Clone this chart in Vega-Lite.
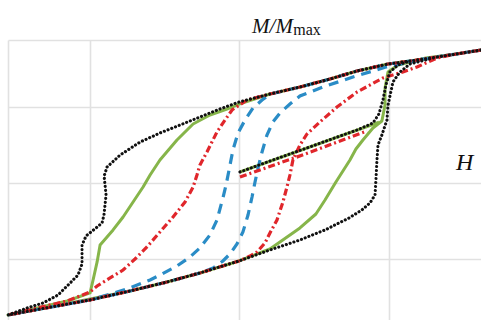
{
  "$schema": "https://vega.github.io/schema/vega-lite/v6.json",
  "width": 473,
  "height": 280,
  "autosize": {"type": "none"},
  "padding": {"left": 8, "top": 40, "right": 0, "bottom": 0},
  "background": "#ffffff",
  "view": {"stroke": null},
  "datasets": {
    "loops": [
      {"c":"k","p":"k1","i":0,"h":1.618,"m":1.750},{"c":"k","p":"k1","i":1,"h":1.450,"m":1.697},{"c":"k","p":"k1","i":2,"h":1.323,"m":1.658},{"c":"k","p":"k1","i":3,"h":1.142,"m":1.605},{"c":"k","p":"k1","i":4,"h":0.995,"m":1.566},{"c":"k","p":"k1","i":5,"h":0.787,"m":1.474},{"c":"k","p":"k1","i":6,"h":0.606,"m":1.368},{"c":"k","p":"k1","i":7,"h":0.405,"m":1.263},{"c":"k","p":"k1","i":8,"h":0.204,"m":1.171},{"c":"k","p":"k1","i":9,"h":-0.003,"m":1.066},{"c":"k","p":"k1","i":10,"h":-0.131,"m":0.974},{"c":"k","p":"k1","i":11,"h":-0.265,"m":0.868},{"c":"k","p":"k1","i":12,"h":-0.399,"m":0.763},{"c":"k","p":"k1","i":13,"h":-0.533,"m":0.658},{"c":"k","p":"k1","i":14,"h":-0.666,"m":0.539},{"c":"k","p":"k1","i":15,"h":-0.800,"m":0.368},{"c":"k","p":"k1","i":16,"h":-0.887,"m":0.211},{"c":"k","p":"k1","i":17,"h":-0.907,"m":0.092},{"c":"k","p":"k1","i":18,"h":-0.894,"m":-0.158},{"c":"k","p":"k1","i":19,"h":-0.908,"m":-0.421},{"c":"k","p":"k1","i":20,"h":-0.921,"m":-0.526},{"c":"k","p":"k1","i":21,"h":-0.961,"m":-0.592},{"c":"k","p":"k1","i":22,"h":-1.028,"m":-0.697},{"c":"k","p":"k1","i":23,"h":-1.055,"m":-0.816},{"c":"k","p":"k1","i":24,"h":-1.055,"m":-1.066},{"c":"k","p":"k1","i":25,"h":-1.082,"m":-1.211},{"c":"k","p":"k1","i":26,"h":-1.135,"m":-1.316},{"c":"k","p":"k1","i":27,"h":-1.216,"m":-1.474},{"c":"k","p":"k1","i":28,"h":-1.316,"m":-1.579},{"c":"k","p":"k1","i":29,"h":-1.423,"m":-1.645},{"c":"k","p":"k1","i":30,"h":-1.551,"m":-1.737},{"c":"k","p":"k1","i":31,"h":-1.336,"m":-1.658},{"c":"k","p":"k1","i":32,"h":-1.001,"m":-1.539},{"c":"k","p":"k1","i":33,"h":-0.733,"m":-1.421},{"c":"k","p":"k1","i":34,"h":-0.486,"m":-1.303},{"c":"k","p":"k1","i":35,"h":-0.265,"m":-1.184},{"c":"k","p":"k1","i":36,"h":-0.003,"m":-1.026},{"c":"k","p":"k1","i":37,"h":0.204,"m":-0.882},{"c":"k","p":"k1","i":38,"h":0.405,"m":-0.750},{"c":"k","p":"k1","i":39,"h":0.573,"m":-0.618},{"c":"k","p":"k1","i":40,"h":0.733,"m":-0.461},{"c":"k","p":"k1","i":41,"h":0.820,"m":-0.355},{"c":"k","p":"k1","i":42,"h":0.874,"m":-0.263},{"c":"k","p":"k1","i":43,"h":0.908,"m":-0.158},{"c":"k","p":"k1","i":44,"h":0.914,"m":0.039},{"c":"k","p":"k1","i":45,"h":0.921,"m":0.303},{"c":"k","p":"k1","i":46,"h":0.928,"m":0.500},{"c":"k","p":"k1","i":47,"h":0.954,"m":0.632},{"c":"k","p":"k1","i":48,"h":0.988,"m":0.829},{"c":"k","p":"k1","i":49,"h":0.995,"m":1.026},{"c":"k","p":"k1","i":50,"h":1.028,"m":1.329},{"c":"k","p":"k1","i":51,"h":1.075,"m":1.461},{"c":"k","p":"k1","i":52,"h":1.142,"m":1.566},{"c":"k","p":"k1","i":53,"h":1.323,"m":1.658},{"c":"k","p":"k1","i":54,"h":1.450,"m":1.697},{"c":"k","p":"k1","i":55,"h":1.618,"m":1.750},
      {"c":"k","p":"k2","i":0,"h":0.003,"m":0.145},{"c":"k","p":"k2","i":1,"h":0.224,"m":0.303},{"c":"k","p":"k2","i":2,"h":0.452,"m":0.461},{"c":"k","p":"k2","i":3,"h":0.673,"m":0.618},{"c":"k","p":"k2","i":4,"h":0.787,"m":0.697},{"c":"k","p":"k2","i":5,"h":0.894,"m":0.789},{"c":"k","p":"k2","i":6,"h":0.934,"m":0.908},{"c":"k","p":"k2","i":7,"h":0.961,"m":1.092},{"c":"k","p":"k2","i":8,"h":0.981,"m":1.289},{"c":"k","p":"k2","i":9,"h":1.008,"m":1.461},{"c":"k","p":"k2","i":10,"h":1.062,"m":1.553},{"c":"k","p":"k2","i":11,"h":1.142,"m":1.605},
      {"c":"g","p":"g1","i":0,"h":1.618,"m":1.750},{"c":"g","p":"g1","i":1,"h":1.450,"m":1.697},{"c":"g","p":"g1","i":2,"h":1.323,"m":1.658},{"c":"g","p":"g1","i":3,"h":1.142,"m":1.605},{"c":"g","p":"g1","i":4,"h":0.995,"m":1.566},{"c":"g","p":"g1","i":5,"h":0.787,"m":1.474},{"c":"g","p":"g1","i":6,"h":0.606,"m":1.368},{"c":"g","p":"g1","i":7,"h":0.405,"m":1.263},{"c":"g","p":"g1","i":8,"h":0.204,"m":1.171},{"c":"g","p":"g1","i":9,"h":-0.003,"m":1.039},{"c":"g","p":"g1","i":10,"h":-0.084,"m":0.974},{"c":"g","p":"g1","i":11,"h":-0.198,"m":0.895},{"c":"g","p":"g1","i":12,"h":-0.311,"m":0.776},{"c":"g","p":"g1","i":13,"h":-0.419,"m":0.566},{"c":"g","p":"g1","i":14,"h":-0.533,"m":0.303},{"c":"g","p":"g1","i":15,"h":-0.599,"m":0.105},{"c":"g","p":"g1","i":16,"h":-0.646,"m":-0.053},{"c":"g","p":"g1","i":17,"h":-0.713,"m":-0.250},{"c":"g","p":"g1","i":18,"h":-0.780,"m":-0.447},{"c":"g","p":"g1","i":19,"h":-0.847,"m":-0.618},{"c":"g","p":"g1","i":20,"h":-0.934,"m":-0.816},{"c":"g","p":"g1","i":21,"h":-0.954,"m":-1.039},{"c":"g","p":"g1","i":22,"h":-0.981,"m":-1.276},{"c":"g","p":"g1","i":23,"h":-1.001,"m":-1.447},{"c":"g","p":"g1","i":24,"h":-1.155,"m":-1.553},{"c":"g","p":"g1","i":25,"h":-1.383,"m":-1.658},{"c":"g","p":"g1","i":26,"h":-1.551,"m":-1.737},{"c":"g","p":"g1","i":27,"h":-1.336,"m":-1.658},{"c":"g","p":"g1","i":28,"h":-1.001,"m":-1.526},{"c":"g","p":"g1","i":29,"h":-0.733,"m":-1.421},{"c":"g","p":"g1","i":30,"h":-0.486,"m":-1.303},{"c":"g","p":"g1","i":31,"h":-0.265,"m":-1.184},{"c":"g","p":"g1","i":32,"h":-0.003,"m":-1.026},{"c":"g","p":"g1","i":33,"h":0.204,"m":-0.868},{"c":"g","p":"g1","i":34,"h":0.405,"m":-0.592},{"c":"g","p":"g1","i":35,"h":0.512,"m":-0.408},{"c":"g","p":"g1","i":36,"h":0.573,"m":-0.224},{"c":"g","p":"g1","i":37,"h":0.646,"m":0.013},{"c":"g","p":"g1","i":38,"h":0.740,"m":0.303},{"c":"g","p":"g1","i":39,"h":0.780,"m":0.447},{"c":"g","p":"g1","i":40,"h":0.827,"m":0.566},{"c":"g","p":"g1","i":41,"h":0.894,"m":0.724},{"c":"g","p":"g1","i":42,"h":0.954,"m":0.816},{"c":"g","p":"g1","i":43,"h":0.975,"m":1.026},{"c":"g","p":"g1","i":44,"h":0.975,"m":1.250},{"c":"g","p":"g1","i":45,"h":0.995,"m":1.461},{"c":"g","p":"g1","i":46,"h":1.062,"m":1.553},{"c":"g","p":"g1","i":47,"h":1.249,"m":1.645},{"c":"g","p":"g1","i":48,"h":1.450,"m":1.697},{"c":"g","p":"g1","i":49,"h":1.618,"m":1.750},
      {"c":"g","p":"g2","i":0,"h":0.003,"m":0.145},{"c":"g","p":"g2","i":1,"h":0.452,"m":0.461},{"c":"g","p":"g2","i":2,"h":0.935,"m":0.800},
      {"c":"r","p":"r1","i":0,"h":1.618,"m":1.750},{"c":"r","p":"r1","i":1,"h":1.450,"m":1.697},{"c":"r","p":"r1","i":2,"h":1.323,"m":1.658},{"c":"r","p":"r1","i":3,"h":1.142,"m":1.605},{"c":"r","p":"r1","i":4,"h":0.995,"m":1.566},{"c":"r","p":"r1","i":5,"h":0.787,"m":1.474},{"c":"r","p":"r1","i":6,"h":0.606,"m":1.368},{"c":"r","p":"r1","i":7,"h":0.405,"m":1.263},{"c":"r","p":"r1","i":8,"h":0.204,"m":1.171},{"c":"r","p":"r1","i":9,"h":0.050,"m":1.092},{"c":"r","p":"r1","i":10,"h":-0.050,"m":0.961},{"c":"r","p":"r1","i":11,"h":-0.097,"m":0.829},{"c":"r","p":"r1","i":12,"h":-0.151,"m":0.671},{"c":"r","p":"r1","i":13,"h":-0.218,"m":0.408},{"c":"r","p":"r1","i":14,"h":-0.265,"m":0.237},{"c":"r","p":"r1","i":15,"h":-0.285,"m":0.105},{"c":"r","p":"r1","i":16,"h":-0.311,"m":-0.053},{"c":"r","p":"r1","i":17,"h":-0.365,"m":-0.250},{"c":"r","p":"r1","i":18,"h":-0.445,"m":-0.447},{"c":"r","p":"r1","i":19,"h":-0.533,"m":-0.645},{"c":"r","p":"r1","i":20,"h":-0.620,"m":-0.842},{"c":"r","p":"r1","i":21,"h":-0.700,"m":-1.000},{"c":"r","p":"r1","i":22,"h":-0.780,"m":-1.145},{"c":"r","p":"r1","i":23,"h":-0.867,"m":-1.250},{"c":"r","p":"r1","i":24,"h":-0.954,"m":-1.355},{"c":"r","p":"r1","i":25,"h":-1.001,"m":-1.434},{"c":"r","p":"r1","i":26,"h":-1.155,"m":-1.553},{"c":"r","p":"r1","i":27,"h":-1.383,"m":-1.658},{"c":"r","p":"r1","i":28,"h":-1.551,"m":-1.737},{"c":"r","p":"r1","i":29,"h":-1.336,"m":-1.658},{"c":"r","p":"r1","i":30,"h":-1.001,"m":-1.539},{"c":"r","p":"r1","i":31,"h":-0.733,"m":-1.421},{"c":"r","p":"r1","i":32,"h":-0.486,"m":-1.303},{"c":"r","p":"r1","i":33,"h":-0.265,"m":-1.184},{"c":"r","p":"r1","i":34,"h":-0.003,"m":-1.026},{"c":"r","p":"r1","i":35,"h":0.070,"m":-0.961},{"c":"r","p":"r1","i":36,"h":0.117,"m":-0.908},{"c":"r","p":"r1","i":37,"h":0.171,"m":-0.789},{"c":"r","p":"r1","i":38,"h":0.204,"m":-0.658},{"c":"r","p":"r1","i":39,"h":0.251,"m":-0.487},{"c":"r","p":"r1","i":40,"h":0.291,"m":-0.250},{"c":"r","p":"r1","i":41,"h":0.318,"m":-0.053},{"c":"r","p":"r1","i":42,"h":0.338,"m":0.105},{"c":"r","p":"r1","i":43,"h":0.358,"m":0.303},{"c":"r","p":"r1","i":44,"h":0.405,"m":0.500},{"c":"r","p":"r1","i":45,"h":0.452,"m":0.645},{"c":"r","p":"r1","i":46,"h":0.539,"m":0.803},{"c":"r","p":"r1","i":47,"h":0.653,"m":1.000},{"c":"r","p":"r1","i":48,"h":0.787,"m":1.197},{"c":"r","p":"r1","i":49,"h":0.961,"m":1.382},{"c":"r","p":"r1","i":50,"h":1.095,"m":1.461},{"c":"r","p":"r1","i":51,"h":1.189,"m":1.526},{"c":"r","p":"r1","i":52,"h":1.323,"m":1.645},{"c":"r","p":"r1","i":53,"h":1.450,"m":1.697},{"c":"r","p":"r1","i":54,"h":1.618,"m":1.750},
      {"c":"r","p":"r2","i":0,"h":0.003,"m":0.079},{"c":"r","p":"r2","i":1,"h":0.422,"m":0.368},{"c":"r","p":"r2","i":2,"h":0.854,"m":0.684},
      {"c":"b","p":"b1","i":0,"h":1.618,"m":1.750},{"c":"b","p":"b1","i":1,"h":1.450,"m":1.697},{"c":"b","p":"b1","i":2,"h":1.323,"m":1.658},{"c":"b","p":"b1","i":3,"h":1.142,"m":1.605},{"c":"b","p":"b1","i":4,"h":0.995,"m":1.566},{"c":"b","p":"b1","i":5,"h":0.787,"m":1.474},{"c":"b","p":"b1","i":6,"h":0.606,"m":1.368},{"c":"b","p":"b1","i":7,"h":0.405,"m":1.263},{"c":"b","p":"b1","i":8,"h":0.204,"m":1.171},{"c":"b","p":"b1","i":9,"h":0.151,"m":1.092},{"c":"b","p":"b1","i":10,"h":0.090,"m":0.987},{"c":"b","p":"b1","i":11,"h":0.037,"m":0.829},{"c":"b","p":"b1","i":12,"h":-0.010,"m":0.658},{"c":"b","p":"b1","i":13,"h":-0.044,"m":0.434},{"c":"b","p":"b1","i":14,"h":-0.070,"m":0.171},{"c":"b","p":"b1","i":15,"h":-0.090,"m":-0.026},{"c":"b","p":"b1","i":16,"h":-0.111,"m":-0.197},{"c":"b","p":"b1","i":17,"h":-0.151,"m":-0.487},{"c":"b","p":"b1","i":18,"h":-0.198,"m":-0.684},{"c":"b","p":"b1","i":19,"h":-0.265,"m":-0.855},{"c":"b","p":"b1","i":20,"h":-0.332,"m":-0.974},{"c":"b","p":"b1","i":21,"h":-0.419,"m":-1.092},{"c":"b","p":"b1","i":22,"h":-0.533,"m":-1.211},{"c":"b","p":"b1","i":23,"h":-0.599,"m":-1.276},{"c":"b","p":"b1","i":24,"h":-0.754,"m":-1.395},{"c":"b","p":"b1","i":25,"h":-0.954,"m":-1.513},{"c":"b","p":"b1","i":26,"h":-1.001,"m":-1.539},{"c":"b","p":"b1","i":27,"h":-1.336,"m":-1.658},{"c":"b","p":"b1","i":28,"h":-1.551,"m":-1.737},{"c":"b","p":"b1","i":29,"h":-1.336,"m":-1.658},{"c":"b","p":"b1","i":30,"h":-1.001,"m":-1.539},{"c":"b","p":"b1","i":31,"h":-0.733,"m":-1.421},{"c":"b","p":"b1","i":32,"h":-0.486,"m":-1.303},{"c":"b","p":"b1","i":33,"h":-0.265,"m":-1.184},{"c":"b","p":"b1","i":34,"h":-0.177,"m":-1.118},{"c":"b","p":"b1","i":35,"h":-0.111,"m":-1.026},{"c":"b","p":"b1","i":36,"h":-0.064,"m":-0.934},{"c":"b","p":"b1","i":37,"h":-0.017,"m":-0.803},{"c":"b","p":"b1","i":38,"h":0.023,"m":-0.645},{"c":"b","p":"b1","i":39,"h":0.057,"m":-0.421},{"c":"b","p":"b1","i":40,"h":0.084,"m":-0.184},{"c":"b","p":"b1","i":41,"h":0.104,"m":0.013},{"c":"b","p":"b1","i":42,"h":0.124,"m":0.197},{"c":"b","p":"b1","i":43,"h":0.151,"m":0.408},{"c":"b","p":"b1","i":44,"h":0.184,"m":0.632},{"c":"b","p":"b1","i":45,"h":0.224,"m":0.803},{"c":"b","p":"b1","i":46,"h":0.271,"m":0.921},{"c":"b","p":"b1","i":47,"h":0.338,"m":1.039},{"c":"b","p":"b1","i":48,"h":0.405,"m":1.145},{"c":"b","p":"b1","i":49,"h":0.559,"m":1.263},{"c":"b","p":"b1","i":50,"h":0.760,"m":1.395},{"c":"b","p":"b1","i":51,"h":0.981,"m":1.526},{"c":"b","p":"b1","i":52,"h":1.142,"m":1.592},{"c":"b","p":"b1","i":53,"h":1.323,"m":1.658},{"c":"b","p":"b1","i":54,"h":1.450,"m":1.697},{"c":"b","p":"b1","i":55,"h":1.618,"m":1.750}
    ],
    "labels": [
      {"t": "M/M", "h": 0.358, "m": 1.970, "k": "var"},
      {"t": "max", "h": 0.360, "m": 1.945, "k": "sub"},
      {"t": "H", "h": 1.450, "m": 0.171, "k": "axis"}
    ]
  },
  "encoding": {
    "x": {
      "field": "h", "type": "quantitative",
      "scale": {"domain": [-1.551, 1.618], "nice": false, "zero": false},
      "axis": {"values": [-1.551, -1, 0, 1], "grid": true, "gridColor": "#e1e1e1", "gridWidth": 1.6, "labels": false, "ticks": false, "domain": false, "title": null}
    },
    "y": {
      "field": "m", "type": "quantitative",
      "scale": {"domain": [-1.803, 1.882], "nice": false, "zero": false},
      "axis": {"values": [-1, 0, 1, 1.882], "grid": true, "gridColor": "#e1e1e1", "gridWidth": 1.6, "labels": false, "ticks": false, "domain": false, "title": null}
    }
  },
  "layer": [
    {
      "data": {"name": "loops"},
      "transform": [{"filter": "datum.c === 'g'"}],
      "mark": {"type": "line", "color": "#86b54a", "strokeWidth": 3, "strokeJoin": "round"},
      "encoding": {"detail": {"field": "p"}, "order": {"field": "i", "type": "quantitative"}}
    },
    {
      "data": {"name": "loops"},
      "transform": [{"filter": "datum.c === 'b'"}],
      "mark": {"type": "line", "color": "#2a8cc6", "strokeWidth": 3.2, "strokeDash": [10, 7]},
      "encoding": {"detail": {"field": "p"}, "order": {"field": "i", "type": "quantitative"}}
    },
    {
      "data": {"name": "loops"},
      "transform": [{"filter": "datum.c === 'r'"}],
      "mark": {"type": "line", "color": "#e0262b", "strokeWidth": 3.2, "strokeDash": [7, 3, 2, 3]},
      "encoding": {"detail": {"field": "p"}, "order": {"field": "i", "type": "quantitative"}}
    },
    {
      "data": {"name": "loops"},
      "transform": [{"filter": "datum.c === 'k'"}],
      "mark": {"type": "line", "color": "#111111", "strokeWidth": 3.1, "strokeCap": "round", "strokeDash": [0.1, 3.9]},
      "encoding": {"detail": {"field": "p"}, "order": {"field": "i", "type": "quantitative"}}
    },
    {
      "data": {"name": "labels"},
      "transform": [{"filter": "datum.k === 'var'"}],
      "mark": {"type": "text", "font": "Liberation Serif", "fontStyle": "italic", "fontSize": 21, "align": "right", "baseline": "alphabetic", "color": "#111111"},
      "encoding": {"text": {"field": "t"}}
    },
    {
      "data": {"name": "labels"},
      "transform": [{"filter": "datum.k === 'sub'"}],
      "mark": {"type": "text", "font": "Liberation Serif", "fontSize": 16, "align": "left", "baseline": "alphabetic", "color": "#111111"},
      "encoding": {"text": {"field": "t"}}
    },
    {
      "data": {"name": "labels"},
      "transform": [{"filter": "datum.k === 'axis'"}],
      "mark": {"type": "text", "font": "Liberation Serif", "fontStyle": "italic", "fontSize": 24, "align": "left", "baseline": "alphabetic", "color": "#111111"},
      "encoding": {"text": {"field": "t"}}
    }
  ]
}
